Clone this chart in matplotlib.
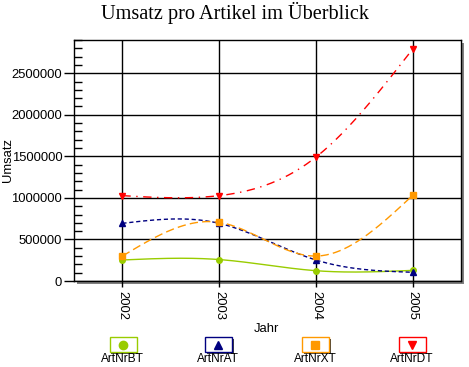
import numpy as np
import matplotlib
matplotlib.use('agg')
import matplotlib.pyplot as plt
from matplotlib.patches import Rectangle
from matplotlib.ticker import MultipleLocator

# Daten
jahre = [2002, 2003, 2004, 2005]
artnr_bt = [253000, 258000, 124000, 128000]
artnr_at = [694000, 694000, 253000, 105000]
artnr_xt = [300000, 706000, 300000, 1030000]
artnr_dt = [1027000, 1027000, 1490000, 2790000]
namen = ['ArtNrBT', 'ArtNrAT', 'ArtNrXT', 'ArtNrDT']

W, H = 469, 367


def fx(px):
    return px / W


def fy(py):
    return 1 - py / H


# natuerlicher kubischer Spline nur zum Zeichnen der Kurven
def glatt(x, y, n=200):
    x = np.asarray(x, float)
    y = np.asarray(y, float)
    k = len(x)
    h = np.diff(x)
    A = np.zeros((k, k))
    b = np.zeros(k)
    A[0, 0] = 1
    A[-1, -1] = 1
    for i in range(1, k - 1):
        A[i, i - 1] = h[i - 1]
        A[i, i] = 2 * (h[i - 1] + h[i])
        A[i, i + 1] = h[i]
        b[i] = 6 * ((y[i + 1] - y[i]) / h[i] - (y[i] - y[i - 1]) / h[i - 1])
    M = np.linalg.solve(A, b)
    xs = np.linspace(x[0], x[-1], n)
    ys = np.empty_like(xs)
    for j, t in enumerate(xs):
        i = min(np.searchsorted(x, t, side='right') - 1, k - 2)
        a = x[i + 1] - t
        c = t - x[i]
        hi = h[i]
        ys[j] = (M[i] * a ** 3 / (6 * hi) + M[i + 1] * c ** 3 / (6 * hi)
                 + (y[i] / hi - M[i] * hi / 6) * a
                 + (y[i + 1] / hi - M[i + 1] * hi / 6) * c)
    return xs, ys


plt.rcParams['font.family'] = ['Liberation Sans', 'DejaVu Sans']
fs = 9.4

fig = plt.figure(figsize=(W / 100, H / 100), dpi=100)
fig.patch.set_facecolor('white')

# Schatten hinter der Zeichenflaeche
fig.patches.append(Rectangle((fx(77), fy(284)), fx(464) - fx(77), fy(43) - fy(284),
                             transform=fig.transFigure, facecolor='#808080',
                             edgecolor='none', zorder=-1))

ax = fig.add_axes([fx(74), fy(281), fx(461) - fx(74), fy(40) - fy(281)])
ax.set_facecolor('white')
ax.set_xlim(2001.5, 2005.5)
ax.set_ylim(0, 2900000)

serien = [
    (artnr_bt, '#99cc00', '-', 'o'),
    (artnr_at, '#000080', (0, (3, 2)), '^'),
    (artnr_xt, '#ff9900', (0, (6, 3)), 's'),
    (artnr_dt, '#ff0000', (0, (6, 4, 1, 4)), 'v'),
]
for werte, farbe, stil, marker in serien:
    xs, ys = glatt(jahre, werte)
    ax.plot(xs, ys, color=farbe, linestyle=stil, linewidth=1, zorder=3)
    ax.plot(jahre, werte, linestyle='none', marker=marker, markersize=4,
            color=farbe, zorder=4)

ax.set_xticks(jahre)
ax.set_xticklabels([str(j) for j in jahre], rotation=-90, fontsize=fs)
ax.yaxis.set_minor_locator(MultipleLocator(100000))
ax.set_yticks(np.arange(0, 2500001, 500000))
ax.set_yticklabels([str(int(v)) for v in ax.get_yticks()], fontsize=fs)
ax.tick_params(axis='y', which='major', direction='out', length=7, width=1, pad=1.5)
ax.tick_params(axis='y', which='minor', direction='in', length=6, width=1)
ax.tick_params(axis='x', which='major', direction='out', length=4, width=1, pad=3)
ax.grid(True, which='major', color='black', linewidth=1)
ax.set_axisbelow(True)
for s in ax.spines.values():
    s.set_color('black')
    s.set_linewidth(1)

fig.text(fx(7.5), fy(160), 'Umsatz', rotation=90, ha='center', va='center', fontsize=fs)
fig.text(fx(266), fy(329), 'Jahr', ha='center', va='center', fontsize=fs)
fig.text(fx(235), fy(13), 'Umsatz pro Artikel im Überblick', ha='center', va='center',
         fontsize=14.6, family=['Liberation Serif', 'DejaVu Serif'])

# Legende
bx = [122.7, 218, 315, 411.7]
for (werte, farbe, stil, marker), name, cx in zip(serien, namen, bx):
    fig.patches.append(Rectangle((fx(cx - 13 + 1.5), fy(352 + 1.5)), 27 / W, 15 / H,
                                 transform=fig.transFigure, facecolor='#404040',
                                 edgecolor='none', zorder=1))
    fig.patches.append(Rectangle((fx(cx - 13), fy(352)), 27 / W, 15 / H,
                                 transform=fig.transFigure, facecolor='white',
                                 edgecolor=farbe, linewidth=1, zorder=2))
    fig.lines.append(plt.Line2D([fx(cx)], [fy(344.5)], transform=fig.transFigure,
                                marker=marker, markersize=6, color=farbe,
                                linestyle='none', zorder=3))
    fig.text(fx(cx), fy(359), name, ha='center', va='center', fontsize=8.6)

fig.savefig('out.png', dpi=100)
